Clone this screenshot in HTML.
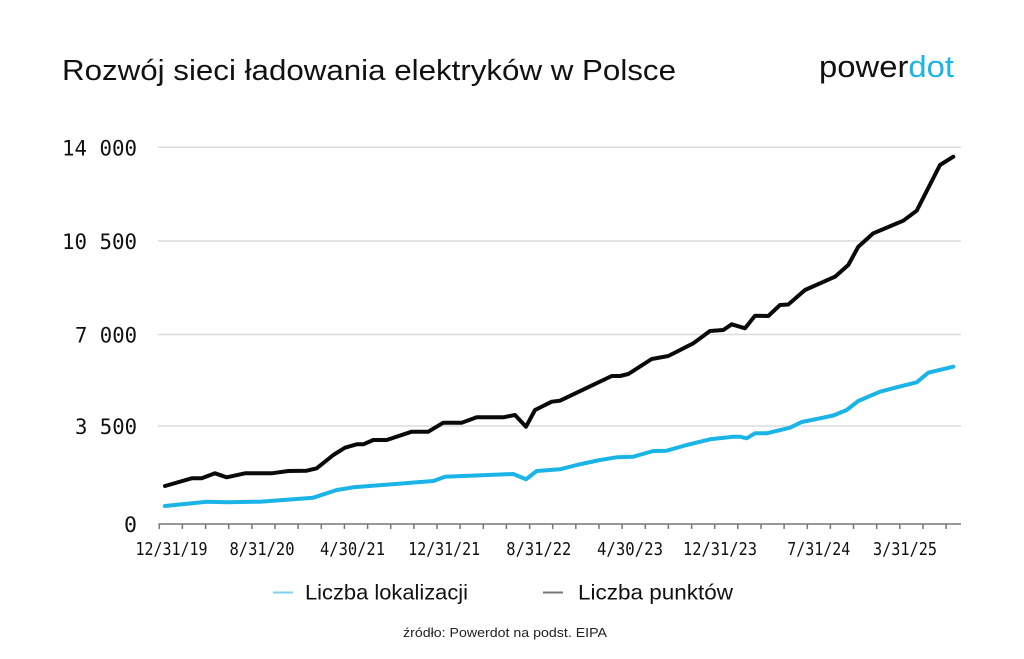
<!DOCTYPE html>
<html>
<head>
<meta charset="utf-8">
<style>
  html, body { margin:0; padding:0; background:#fff; }
  svg { display:block; }
</style>
</head>
<body>
<svg width="1024" height="659" viewBox="0 0 1024 659" xmlns="http://www.w3.org/2000/svg">
  <rect width="1024" height="659" fill="#ffffff"/>

  <!-- Title -->
  <text x="62" y="80" font-family="Liberation Sans, sans-serif" font-size="29" fill="#111" textLength="614" lengthAdjust="spacingAndGlyphs">Rozwój sieci ładowania elektryków w Polsce</text>

  <!-- Logo -->
  <text x="819" y="77" font-family="Liberation Sans, sans-serif" font-size="31" textLength="135" lengthAdjust="spacingAndGlyphs"><tspan fill="#111">power</tspan><tspan fill="#1ab4e6">dot</tspan></text>

  <!-- Gridlines -->
  <g stroke="#dcdcdc" stroke-width="1.5">
    <line x1="158" y1="147.3" x2="961" y2="147.3"/>
    <line x1="158" y1="241" x2="961" y2="241"/>
    <line x1="158" y1="334.5" x2="961" y2="334.5"/>
    <line x1="158" y1="426" x2="961" y2="426"/>
  </g>

  <!-- Y labels -->
  <g font-family="DejaVu Sans Mono, Liberation Mono, monospace" font-size="21" fill="#111" text-anchor="end">
    <text x="137" y="155.5" textLength="75" lengthAdjust="spacingAndGlyphs">14 000</text>
    <text x="137" y="249" textLength="75" lengthAdjust="spacingAndGlyphs">10 500</text>
    <text x="137" y="342.5" textLength="62" lengthAdjust="spacingAndGlyphs">7 000</text>
    <text x="137" y="434" textLength="62" lengthAdjust="spacingAndGlyphs">3 500</text>
    <text x="137" y="532" textLength="13" lengthAdjust="spacingAndGlyphs">0</text>
  </g>

  <!-- X axis -->
  <g stroke="#777" stroke-width="1.5">
    <line x1="158.5" y1="524" x2="961" y2="524"/>
  </g>
  <g stroke="#777" stroke-width="1.5" id="ticks">
    <line x1="159.3" y1="524" x2="159.3" y2="529"/>
    <line x1="182.4" y1="524" x2="182.4" y2="529"/>
    <line x1="205.6" y1="524" x2="205.6" y2="529"/>
    <line x1="228.7" y1="524" x2="228.7" y2="529"/>
    <line x1="251.9" y1="524" x2="251.9" y2="529"/>
    <line x1="275.0" y1="524" x2="275.0" y2="529"/>
    <line x1="298.1" y1="524" x2="298.1" y2="529"/>
    <line x1="321.3" y1="524" x2="321.3" y2="529"/>
    <line x1="344.4" y1="524" x2="344.4" y2="529"/>
    <line x1="367.6" y1="524" x2="367.6" y2="529"/>
    <line x1="390.7" y1="524" x2="390.7" y2="529"/>
    <line x1="413.9" y1="524" x2="413.9" y2="529"/>
    <line x1="437.0" y1="524" x2="437.0" y2="529"/>
    <line x1="460.1" y1="524" x2="460.1" y2="529"/>
    <line x1="483.3" y1="524" x2="483.3" y2="529"/>
    <line x1="506.4" y1="524" x2="506.4" y2="529"/>
    <line x1="529.6" y1="524" x2="529.6" y2="529"/>
    <line x1="552.7" y1="524" x2="552.7" y2="529"/>
    <line x1="575.8" y1="524" x2="575.8" y2="529"/>
    <line x1="599.0" y1="524" x2="599.0" y2="529"/>
    <line x1="622.1" y1="524" x2="622.1" y2="529"/>
    <line x1="645.3" y1="524" x2="645.3" y2="529"/>
    <line x1="668.4" y1="524" x2="668.4" y2="529"/>
    <line x1="691.6" y1="524" x2="691.6" y2="529"/>
    <line x1="714.7" y1="524" x2="714.7" y2="529"/>
    <line x1="737.8" y1="524" x2="737.8" y2="529"/>
    <line x1="761.0" y1="524" x2="761.0" y2="529"/>
    <line x1="784.1" y1="524" x2="784.1" y2="529"/>
    <line x1="807.3" y1="524" x2="807.3" y2="529"/>
    <line x1="830.4" y1="524" x2="830.4" y2="529"/>
    <line x1="853.5" y1="524" x2="853.5" y2="529"/>
    <line x1="876.7" y1="524" x2="876.7" y2="529"/>
    <line x1="899.8" y1="524" x2="899.8" y2="529"/>
    <line x1="923.0" y1="524" x2="923.0" y2="529"/>
    <line x1="946.1" y1="524" x2="946.1" y2="529"/>
  </g>

  <!-- X labels -->
  <g font-family="DejaVu Sans Mono, Liberation Mono, monospace" font-size="18" fill="#111" text-anchor="middle">
    <text x="171.5" y="555" textLength="72" lengthAdjust="spacingAndGlyphs">12/31/19</text>
    <text x="262" y="555" textLength="65" lengthAdjust="spacingAndGlyphs">8/31/20</text>
    <text x="352.5" y="555" textLength="65" lengthAdjust="spacingAndGlyphs">4/30/21</text>
    <text x="444.2" y="555" textLength="72" lengthAdjust="spacingAndGlyphs">12/31/21</text>
    <text x="538.8" y="555" textLength="65" lengthAdjust="spacingAndGlyphs">8/31/22</text>
    <text x="630" y="555" textLength="66" lengthAdjust="spacingAndGlyphs">4/30/23</text>
    <text x="720" y="555" textLength="74" lengthAdjust="spacingAndGlyphs">12/31/23</text>
    <text x="818.7" y="555" textLength="63" lengthAdjust="spacingAndGlyphs">7/31/24</text>
    <text x="905" y="555" textLength="64" lengthAdjust="spacingAndGlyphs">3/31/25</text>
  </g>

  <!-- Series: Liczba punktów (black) -->
  <polyline fill="none" stroke="#0a0a0a" stroke-width="4" stroke-linejoin="round" stroke-linecap="round"
    points="165,486 191.7,478.3 201.7,478.3 215,473.3 226.7,477.3 245,473.3 271.7,473.3 288.3,471 306.7,470.7 316.7,468.3 333.3,455 345,447.7 356.7,444.3 363.3,444.3 373.3,440 386.7,440 411.7,431.7 428.3,431.7 443.3,422.7 461.7,422.7 476.7,417.3 503.3,417.3 515,415 526,426.7 535,410 551.7,401.7 560,400.7 611.7,376 620,376 628.3,374 651.7,359 668.3,356 693.3,343.3 710,331 723.3,330 731.7,324.3 745,328.3 755,315.7 768.3,316 780,305 788.3,304.5 805,290 835,276.7 848.3,265 858.3,246.7 873.3,233.3 903.3,220.7 916.7,210.7 940,165 953.3,156.7"/>

  <!-- Series: Liczba lokalizacji (blue) -->
  <polyline fill="none" stroke="#1ab4e6" stroke-width="4" stroke-linejoin="round" stroke-linecap="round"
    points="165,506 206.7,501.7 226.7,502.3 260,501.7 313.3,497.7 336.7,490 353.3,487.3 433.3,481 445,476.7 513.3,474 526,479.3 536.7,471 560,469.3 576.7,465 600,460 616.7,457.3 633.3,456.7 653.3,451 666.7,450.7 686.7,445 710,439.3 733.3,436.7 740,436.7 746.7,438.3 755,433.3 766.7,433.3 790,427.7 801.7,422 820,418.3 833.3,415.5 846.7,410 858.3,401 880,391.7 896.7,387.3 916.7,382.3 928.3,372.7 953.3,366.7"/>

  <!-- Legend -->
  <line x1="273" y1="592.5" x2="293" y2="592.5" stroke="#7fd2ee" stroke-width="2"/>
  <text x="305" y="599.5" font-family="Liberation Sans, sans-serif" font-size="21" fill="#111" textLength="163" lengthAdjust="spacingAndGlyphs">Liczba lokalizacji</text>
  <line x1="543" y1="592.5" x2="563" y2="592.5" stroke="#777" stroke-width="2"/>
  <text x="578" y="599.5" font-family="Liberation Sans, sans-serif" font-size="21" fill="#111" textLength="155" lengthAdjust="spacingAndGlyphs">Liczba punktów</text>

  <!-- Source -->
  <text x="403" y="637" font-family="Liberation Sans, sans-serif" font-size="12.5" fill="#222" textLength="204" lengthAdjust="spacingAndGlyphs">źródło: Powerdot na podst. EIPA</text>
</svg>
</body>
</html>
